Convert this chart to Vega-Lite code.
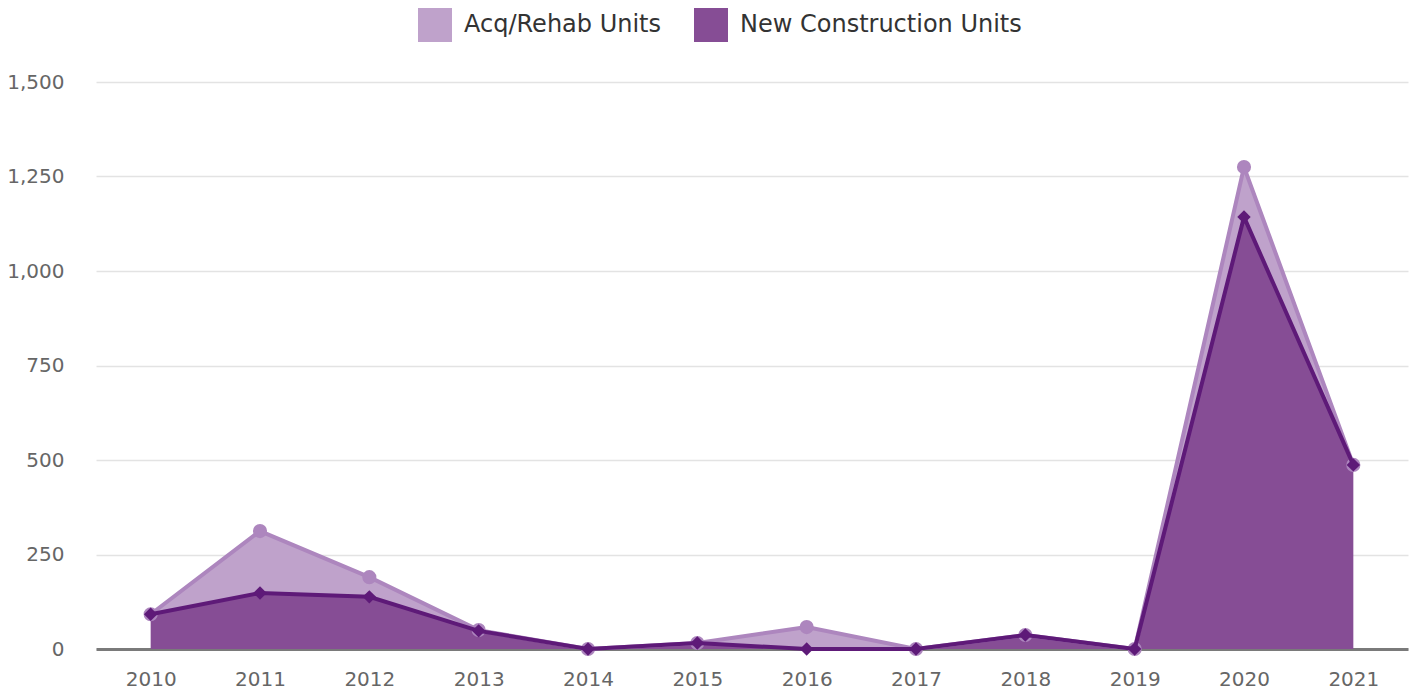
{
  "$schema": "https://vega.github.io/schema/vega-lite/v6.json",
  "width": 1312,
  "height": 567,
  "autosize": "none",
  "padding": {"left": 96, "top": 82, "right": 6, "bottom": 45},
  "background": "white",
  "config": {
    "font": "DejaVu Sans",
    "view": {"stroke": null}
  },
  "data": {
    "values": [
      {"year": "2010", "series": "New Construction Units", "value": 92},
      {"year": "2011", "series": "New Construction Units", "value": 148},
      {"year": "2012", "series": "New Construction Units", "value": 138},
      {"year": "2013", "series": "New Construction Units", "value": 48},
      {"year": "2014", "series": "New Construction Units", "value": 0},
      {"year": "2015", "series": "New Construction Units", "value": 16},
      {"year": "2016", "series": "New Construction Units", "value": 0},
      {"year": "2017", "series": "New Construction Units", "value": 0},
      {"year": "2018", "series": "New Construction Units", "value": 37},
      {"year": "2019", "series": "New Construction Units", "value": 0},
      {"year": "2020", "series": "New Construction Units", "value": 1143},
      {"year": "2021", "series": "New Construction Units", "value": 487},
      {"year": "2010", "series": "Acq/Rehab Units", "value": 0},
      {"year": "2011", "series": "Acq/Rehab Units", "value": 164},
      {"year": "2012", "series": "Acq/Rehab Units", "value": 52},
      {"year": "2013", "series": "Acq/Rehab Units", "value": 2},
      {"year": "2014", "series": "Acq/Rehab Units", "value": 0},
      {"year": "2015", "series": "Acq/Rehab Units", "value": 0},
      {"year": "2016", "series": "Acq/Rehab Units", "value": 58},
      {"year": "2017", "series": "Acq/Rehab Units", "value": 0},
      {"year": "2018", "series": "Acq/Rehab Units", "value": 0},
      {"year": "2019", "series": "Acq/Rehab Units", "value": 0},
      {"year": "2020", "series": "Acq/Rehab Units", "value": 132},
      {"year": "2021", "series": "Acq/Rehab Units", "value": 0}
    ]
  },
  "transform": [
    {"stack": "value", "groupby": ["year"], "as": ["y0", "y1"], "sort": [{"field": "series", "order": "descending"}]}
  ],
  "encoding": {
    "x": {
      "field": "year",
      "type": "ordinal",
      "scale": {"type": "point", "padding": 0.5},
      "axis": {
        "title": null,
        "labelAngle": 0,
        "labelFontSize": 20,
        "labelColor": "#666666",
        "labelPadding": 20,
        "ticks": false,
        "grid": false,
        "domain": true,
        "domainColor": "#7a7a7a",
        "domainWidth": 3
      }
    }
  },
  "layer": [
    {
      "mark": {"type": "area", "opacity": 1},
      "encoding": {
        "y": {
          "field": "y1",
          "type": "quantitative",
          "scale": {"domain": [0, 1500], "nice": false},
          "axis": {
            "title": null,
            "values": [0, 250, 500, 750, 1000, 1250, 1500],
            "format": ",d",
            "labelFontSize": 20,
            "labelColor": "#666666",
            "labelPadding": 32,
            "domain": false,
            "ticks": false,
            "gridColor": "#e3e3e3",
            "gridWidth": 1.5
          }
        },
        "y2": {"field": "y0"},
        "color": {
          "field": "series",
          "type": "nominal",
          "scale": {
            "domain": ["Acq/Rehab Units", "New Construction Units"],
            "range": ["#bfa2cb", "#864d95"]
          },
          "legend": {
            "title": null,
            "orient": "none",
            "direction": "horizontal",
            "legendX": 322,
            "legendY": -74,
            "symbolType": "square",
            "symbolSize": 1156,
            "symbolStrokeWidth": 0,
            "symbolOpacity": 1,
            "labelFontSize": 24,
            "labelColor": "#333333",
            "labelOffset": 12,
            "columnPadding": 32,
            "labelLimit": 400
          }
        }
      }
    },
    {
      "transform": [{"filter": "datum.series === 'Acq/Rehab Units'"}],
      "mark": {"type": "line", "color": "#ad86be", "strokeWidth": 4},
      "encoding": {"y": {"field": "y1", "type": "quantitative"}}
    },
    {
      "transform": [{"filter": "datum.series === 'Acq/Rehab Units'"}],
      "mark": {"type": "point", "shape": "circle", "filled": true, "opacity": 1, "color": "#ad86be", "size": 200},
      "encoding": {"y": {"field": "y1", "type": "quantitative"}}
    },
    {
      "transform": [{"filter": "datum.series === 'New Construction Units'"}],
      "mark": {"type": "line", "color": "#5e1a78", "strokeWidth": 4},
      "encoding": {"y": {"field": "y1", "type": "quantitative"}}
    },
    {
      "transform": [{"filter": "datum.series === 'New Construction Units'"}],
      "mark": {"type": "point", "shape": "diamond", "filled": true, "opacity": 1, "color": "#5e1a78", "size": 180},
      "encoding": {"y": {"field": "y1", "type": "quantitative"}}
    }
  ]
}
